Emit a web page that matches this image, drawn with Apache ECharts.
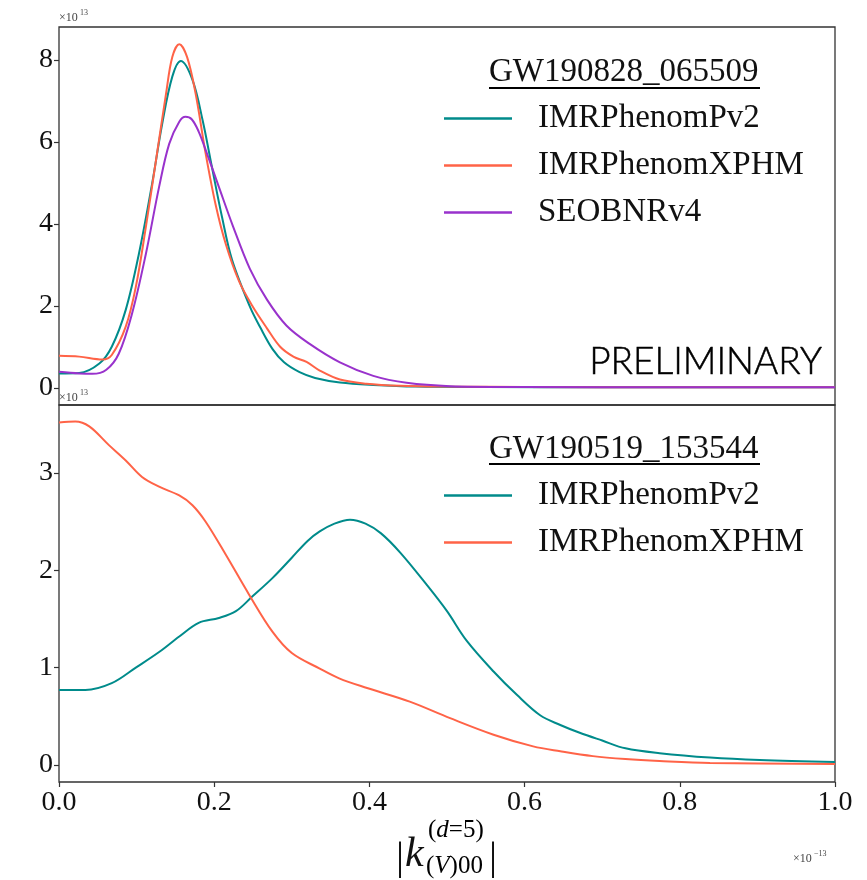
<!DOCTYPE html>
<html>
<head>
<meta charset="utf-8">
<script src="https://cdn.jsdelivr.net/npm/echarts@6/dist/echarts.min.js"></script>
<style>
  html, body { margin: 0; padding: 0; background: #ffffff; }
  #chart { width: 867px; height: 880px; }
</style>
</head>
<body>
<div id="chart"></div>
<script>
// Event labels and waveform approximants
const eventTop = 'GW190828_065509';
const eventBottom = 'GW190519_153544';
const waveforms = ['IMRPhenomPv2', 'IMRPhenomXPHM', 'SEOBNRv4'];
const colors = ['#008b8b', '#ff6347', '#9932cc'];

// Tick positions: x in units of 1e-13, y in units of 1e13
const xTicks = [0, 0.2, 0.4, 0.6, 0.8, 1.0];
const yTicksTop = [0, 2, 4, 6, 8];
const yTicksBottom = [0, 1, 2, 3];

// GW190828_065509 — IMRPhenomPv2
const kTopPv2 = [0, 0.026, 0.052, 0.068, 0.086, 0.103, 0.12, 0.133, 0.146, 0.157, 0.172, 0.185, 0.197, 0.21, 0.223, 0.246, 0.26, 0.275, 0.29, 0.31, 0.33, 0.362, 0.405, 0.46, 0.55, 0.7, 0.85, 1.0];
const dTopPv2 = [0.35, 0.36, 0.59, 1.0, 1.9, 3.27, 4.98, 6.44, 7.59, 7.97, 7.51, 6.53, 5.39, 4.17, 3.12, 1.98, 1.45, 0.95, 0.62, 0.38, 0.24, 0.13, 0.07, 0.03, 0.02, 0.01, 0.01, 0.01];

// GW190828_065509 — IMRPhenomXPHM
const kTopXPHM = [0, 0.026, 0.056, 0.068, 0.086, 0.099, 0.112, 0.125, 0.138, 0.146, 0.155, 0.165, 0.176, 0.189, 0.202, 0.215, 0.232, 0.249, 0.268, 0.285, 0.302, 0.319, 0.336, 0.362, 0.396, 0.44, 0.5, 0.6, 0.8, 1.0];
const dTopXPHM = [0.78, 0.76, 0.69, 0.8, 1.49, 2.46, 3.93, 5.55, 7.18, 8.07, 8.38, 8.07, 7.18, 5.71, 4.45, 3.5, 2.6, 2.0, 1.45, 1.0, 0.76, 0.63, 0.42, 0.2, 0.10, 0.05, 0.03, 0.02, 0.01, 0.01];

// GW190828_065509 — SEOBNRv4
const kTopSEOB = [0, 0.026, 0.043, 0.061, 0.077, 0.094, 0.112, 0.129, 0.142, 0.155, 0.163, 0.171, 0.18, 0.19, 0.206, 0.224, 0.246, 0.268, 0.293, 0.323, 0.362, 0.405, 0.448, 0.504, 0.6, 0.8, 1.0];
const dTopSEOB = [0.39, 0.35, 0.34, 0.44, 0.83, 1.8, 3.27, 4.9, 5.95, 6.49, 6.61, 6.55, 6.25, 5.75, 4.9, 3.95, 2.9, 2.15, 1.52, 1.07, 0.62, 0.29, 0.12, 0.04, 0.02, 0.01, 0.01];

// GW190519_153544 — IMRPhenomPv2
const kBotPv2 = [0, 0.034, 0.068, 0.099, 0.129, 0.155, 0.18, 0.206, 0.228, 0.249, 0.275, 0.30, 0.32, 0.336, 0.355, 0.375, 0.395, 0.415, 0.44, 0.474, 0.50, 0.525, 0.56, 0.59, 0.62, 0.646, 0.671, 0.70, 0.73, 0.774, 0.839, 0.903, 1.0];
const dBotPv2 = [0.77, 0.77, 0.84, 1.0, 1.16, 1.32, 1.46, 1.51, 1.58, 1.73, 1.92, 2.13, 2.30, 2.40, 2.48, 2.52, 2.48, 2.38, 2.18, 1.85, 1.58, 1.28, 0.96, 0.72, 0.51, 0.41, 0.33, 0.25, 0.17, 0.12, 0.075, 0.05, 0.03];

// GW190519_153544 — IMRPhenomXPHM
const kBotXPHM = [0, 0.021, 0.039, 0.064, 0.086, 0.107, 0.129, 0.155, 0.172, 0.189, 0.215, 0.245, 0.275, 0.30, 0.336, 0.361, 0.397, 0.452, 0.504, 0.56, 0.611, 0.646, 0.688, 0.73, 0.774, 0.839, 1.0];
const dBotXPHM = [3.52, 3.53, 3.48, 3.29, 3.13, 2.96, 2.86, 2.77, 2.67, 2.50, 2.16, 1.75, 1.37, 1.15, 0.99, 0.89, 0.79, 0.65, 0.48, 0.31, 0.19, 0.14, 0.09, 0.06, 0.04, 0.02, 0.01];

const pairs = (xs, ys) => xs.map((x, i) => [x, ys[i]]);

const SERIF = '"Liberation Serif", "DejaVu Serif", serif';
const INK = '#111111';
const FRAME = '#333333';

const GRID_L = 59, GRID_W = 776;
const TOP_Y = 27, MID_Y = 405, BOT_Y = 782;

function lineSeries(name, data, color, idx) {
  return {
    type: 'line', name: name, data: data,
    xAxisIndex: idx, yAxisIndex: idx,
    showSymbol: false, smooth: 0.35,
    lineStyle: { color: color, width: 2 },
    itemStyle: { color: color },
    emphasis: { disabled: true }
  };
}

function yAxisFor(idx, min, max, ticks) {
  return {
    gridIndex: idx, type: 'value', min: min, max: max,
    axisLine: { show: false, onZero: false },
    splitLine: { show: false },
    axisTick: { show: true, inside: false, length: 5, customValues: ticks,
                lineStyle: { color: FRAME, width: 1.2 } },
    axisLabel: { show: true, customValues: ticks, margin: 6,
                 fontFamily: SERIF, fontSize: 28, color: INK }
  };
}

function legendFor(names, top) {
  return {
    data: names, orient: 'vertical', left: 444, top: top,
    itemWidth: 68, itemHeight: 2.5, icon: 'rect', itemGap: 14,
    selectedMode: false, padding: 0,
    textStyle: { fontFamily: SERIF, fontSize: 33, lineHeight: 33, color: INK,
                 padding: [0, 0, 0, 21] }
  };
}

function eventTitle(text, top) {
  return {
    text: text, left: 489, top: top, padding: 0,
    textStyle: { fontFamily: SERIF, fontSize: 33, fontWeight: 'normal', color: INK }
  };
}

function timesTen(x, y, exp) {
  return {
    type: 'group', left: x, top: y, children: [
      { type: 'text', x: 0, y: 3, style: { text: '×10', font: '12px ' + SERIF, fill: '#444' } },
      { type: 'text', x: 21, y: 0, style: { text: exp, font: '8px ' + SERIF, fill: '#444' } }
    ]
  };
}

const chart = echarts.init(document.getElementById('chart'), null, { renderer: 'canvas' });

chart.setOption({
  backgroundColor: '#ffffff',
  animation: false,
  title: [eventTitle(eventTop, 56), eventTitle(eventBottom, 433)],
  legend: [legendFor(waveforms, 102), legendFor(waveforms.slice(0, 2), 479)],
  grid: [
    { left: GRID_L, top: TOP_Y, width: GRID_W, height: MID_Y - TOP_Y,
      show: true, borderColor: FRAME, borderWidth: 1.3, backgroundColor: 'transparent' },
    { left: GRID_L, top: MID_Y, width: GRID_W, height: BOT_Y - MID_Y,
      show: true, borderColor: FRAME, borderWidth: 1.3, backgroundColor: 'transparent' }
  ],
  xAxis: [
    { gridIndex: 0, type: 'value', min: 0, max: 1,
      axisLine: { show: false, onZero: false }, axisTick: { show: false },
      axisLabel: { show: false }, splitLine: { show: false } },
    { gridIndex: 1, type: 'value', min: 0, max: 1, position: 'bottom',
      axisLine: { show: false, onZero: false }, splitLine: { show: false },
      axisTick: { show: true, inside: false, length: 5, customValues: xTicks,
                  lineStyle: { color: FRAME, width: 1.2 } },
      axisLabel: { show: true, customValues: xTicks, margin: 7,
                   formatter: v => v.toFixed(1),
                   fontFamily: SERIF, fontSize: 28, color: INK } }
  ],
  yAxis: [
    yAxisFor(0, -0.42, 8.8, yTicksTop),
    yAxisFor(1, -0.176, 3.70, yTicksBottom)
  ],
  series: [
    lineSeries(waveforms[0], pairs(kTopPv2, dTopPv2), colors[0], 0),
    lineSeries(waveforms[1], pairs(kTopXPHM, dTopXPHM), colors[1], 0),
    lineSeries(waveforms[2], pairs(kTopSEOB, dTopSEOB), colors[2], 0),
    lineSeries(waveforms[0], pairs(kBotPv2, dBotPv2), colors[0], 1),
    lineSeries(waveforms[1], pairs(kBotXPHM, dBotXPHM), colors[1], 1)
  ],
  graphic: [
    // underlines beneath the event names
    { type: 'line', shape: { x1: 489, y1: 88, x2: 760, y2: 88 },
      style: { stroke: '#000', lineWidth: 2 } },
    { type: 'line', shape: { x1: 489, y1: 464, x2: 760, y2: 464 },
      style: { stroke: '#000', lineWidth: 2 } },
    // watermark
    { type: 'text', x: 822, y: 362,
      style: { text: 'PRELIMINARY', font: '300 37px Lato, "Noto Sans", sans-serif',
               fill: '#000', stroke: '#000', lineWidth: 0.5,
               align: 'right', verticalAlign: 'middle' } },
    // axis scale factors
    timesTen(59, 9, '13'),
    timesTen(59, 389, '13'),
    { type: 'group', left: 793, top: 850, children: [
      { type: 'text', x: 0, y: 3, style: { text: '×10', font: '12px ' + SERIF, fill: '#444' } },
      { type: 'text', x: 21, y: 0, style: { text: '−13', font: '8px ' + SERIF, fill: '#444' } }
    ] },
    // x-axis title |k^(d=5)_(V)00|
    { type: 'text', x: 396, y: 858,
      style: { text: '|', font: '40px ' + SERIF, fill: INK, verticalAlign: 'middle' } },
    { type: 'text', x: 405, y: 855,
      style: { text: 'k', font: 'italic 42px ' + SERIF, fill: INK, verticalAlign: 'middle' } },
    { type: 'text', x: 428, y: 830,
      style: { text: '{n|(}{i|d}{n|=5)}', verticalAlign: 'middle',
               rich: { n: { fontFamily: SERIF, fontSize: 25, color: INK },
                       i: { fontFamily: SERIF, fontStyle: 'italic', fontSize: 25, color: INK } } } },
    { type: 'text', x: 426, y: 866,
      style: { text: '{n|(}{i|V}{n|)00}', verticalAlign: 'middle',
               rich: { n: { fontFamily: SERIF, fontSize: 25, color: INK },
                       i: { fontFamily: SERIF, fontStyle: 'italic', fontSize: 25, color: INK } } } },
    { type: 'text', x: 489, y: 858,
      style: { text: '|', font: '40px ' + SERIF, fill: INK, verticalAlign: 'middle' } }
  ]
});
</script>
</body>
</html>
